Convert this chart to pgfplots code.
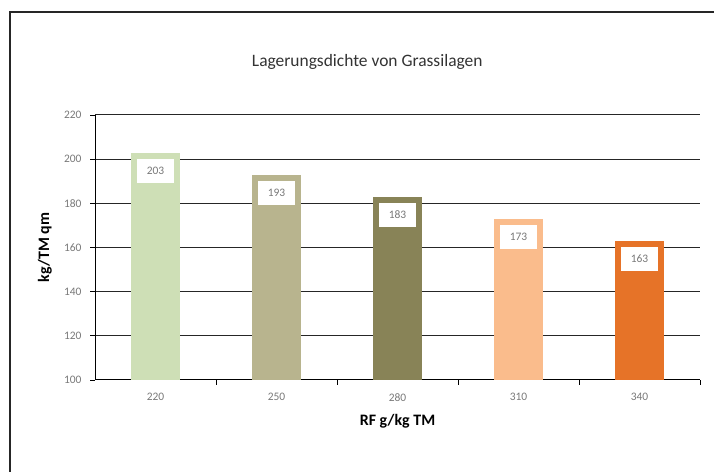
\documentclass[border=0pt]{standalone}
\usepackage{pgfplots}
\pgfplotsset{compat=1.18}
\usepackage{fontspec}
\setmainfont{Carlito}

\definecolor{barA}{RGB}{206,223,182}
\definecolor{barB}{RGB}{184,180,142}
\definecolor{barC}{RGB}{136,131,87}
\definecolor{barD}{RGB}{250,188,140}
\definecolor{barE}{RGB}{230,115,40}
\definecolor{ticktext}{RGB}{120,120,120}

\begin{document}
\begin{tikzpicture}[x=1bp,y=1bp]
	\useasboundingbox (0,0) rectangle (714,472);
	% chart frame (only left and top edges are visible)
	\draw[line width=1.5bp, black!85] (10,0) -- (10,460) -- (714,460);
	
	\pgfplotsset{
		valbar/.style={
			fill=#1, draw=none,
			nodes near coords,
			every node near coord/.style={
				anchor=north, yshift=-6bp,
				fill=white, inner sep=0pt,
				minimum width=37bp, minimum height=24bp,
				text=ticktext, font=\fontsize{11.5}{12}\selectfont,
			},
		}
	}
	
	\begin{axis}[
		at={(95bp,92bp)}, anchor=south west,
		scale only axis,
		width=605bp, height=265bp,
		ybar, bar width=49bp, bar shift=0pt,
		xmin=-0.5, xmax=4.5,
		ymin=100, ymax=220,
		ytick={100,120,...,220},
		xtick={0,1,2,3,4},
		xticklabels={220,250,280,310,340},
		minor xtick={0.5,1.5,2.5,3.5,4.5},
		major x tick style={draw=none},
		minor x tick style={black, line width=0.8bp},
		y tick style={black, line width=0.8bp},
		tick align=outside,
		major tick length=5bp, minor tick length=5bp,
		axis x line*=bottom, axis y line*=left,
		axis line style={black, line width=1bp, -},
		ymajorgrids,
		grid style={black!85, line width=1bp},
		tick label style={text=ticktext, font=\fontsize{11.5}{12}\selectfont},
		/pgf/number format/assume math mode=true,
		xticklabel style={yshift=-5bp},
		yticklabel style={xshift=-5bp},
		title={Lagerungsdichte von Grassilagen},
		title style={font=\fontsize{17.5}{19}\selectfont, text=black!80,
			at={(axis description cs:0.45,1.177)}, anchor=center},
		xlabel={\textbf{RF g/kg TM}},
		ylabel={\textbf{kg/TM qm}},
		label style={font=\fontsize{16}{18}\selectfont},
		xlabel style={at={(axis description cs:0.5,-0.155)}, anchor=center},
		ylabel style={at={(axis description cs:-0.083,0.5)}, anchor=center},
		clip=false,
		]
		\addplot[valbar=barA] coordinates {(0,203)};
		\addplot[valbar=barB] coordinates {(1,193)};
		\addplot[valbar=barC] coordinates {(2,183)};
		\addplot[valbar=barD] coordinates {(3,173)};
		\addplot[valbar=barE] coordinates {(4,163)};
	\end{axis}
\end{tikzpicture}
\end{document}
